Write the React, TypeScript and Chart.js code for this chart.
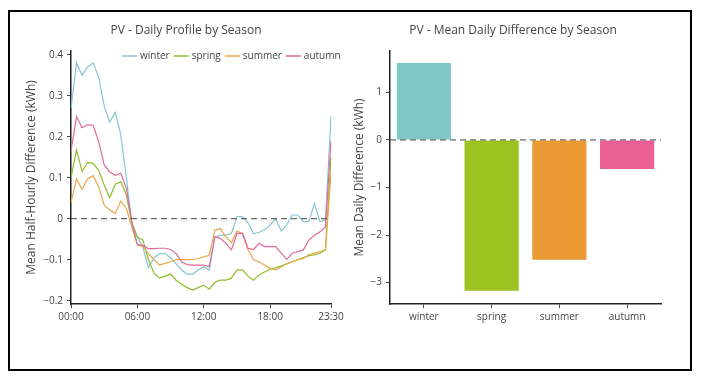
import React, { useEffect, useRef } from 'react';
import { Chart, registerables } from 'chart.js';

Chart.register(...registerables);

const timeLabels = [
  '00:00', '00:30', '01:00', '01:30', '02:00', '02:30', '03:00', '03:30',
  '04:00', '04:30', '05:00', '05:30', '06:00', '06:30', '07:00', '07:30',
  '08:00', '08:30', '09:00', '09:30', '10:00', '10:30', '11:00', '11:30',
  '12:00', '12:30', '13:00', '13:30', '14:00', '14:30', '15:00', '15:30',
  '16:00', '16:30', '17:00', '17:30', '18:00', '18:30', '19:00', '19:30',
  '20:00', '20:30', '21:00', '21:30', '22:00', '22:30', '23:00', '23:30',
];
const shownTimeTicks = ['00:00', '06:00', '12:00', '18:00', '23:30'];

const seasons = ['winter', 'spring', 'summer', 'autumn'];

const winterProfile = [
  0.27, 0.38, 0.35, 0.37, 0.38, 0.345, 0.275, 0.235, 0.26, 0.205, 0.1, -0.01,
  -0.045, -0.07, -0.12, -0.095, -0.085, -0.085, -0.095, -0.11, -0.125, -0.135, -0.135, -0.125,
  -0.117, -0.125, -0.045, -0.04, -0.04, -0.036, 0.005, 0.005, -0.01, -0.037, -0.033, -0.027,
  -0.015, 0.0, -0.03, -0.015, 0.009, 0.009, -0.007, -0.007, 0.037, -0.007, -0.003, 0.25,
];
const springProfile = [
  0.1, 0.168, 0.115, 0.137, 0.135, 0.118, 0.082, 0.051, 0.084, 0.09, 0.058, -0.01,
  -0.045, -0.052, -0.1, -0.133, -0.145, -0.14, -0.135, -0.15, -0.16, -0.168, -0.174, -0.168,
  -0.162, -0.172, -0.155, -0.15, -0.15, -0.145, -0.125, -0.125, -0.14, -0.15, -0.137, -0.13,
  -0.123, -0.12, -0.115, -0.11, -0.105, -0.1, -0.095, -0.09, -0.088, -0.084, -0.076, 0.15,
];
const summerProfile = [
  0.04, 0.097, 0.072, 0.097, 0.105, 0.078, 0.033, 0.021, 0.013, 0.043, 0.025, -0.02,
  -0.064, -0.068, -0.085, -0.1, -0.113, -0.109, -0.105, -0.1, -0.1, -0.1, -0.1, -0.097,
  -0.093, -0.089, -0.028, -0.024, -0.045, -0.058, -0.03, -0.036, -0.076, -0.1, -0.105, -0.113,
  -0.121, -0.125, -0.117, -0.11, -0.105, -0.1, -0.097, -0.088, -0.084, -0.08, -0.076, 0.11,
];
const autumnProfile = [
  0.164, 0.249, 0.222, 0.229, 0.228, 0.188, 0.131, 0.114, 0.106, 0.111, 0.074, -0.01,
  -0.063, -0.065, -0.073, -0.073, -0.072, -0.072, -0.075, -0.085, -0.105, -0.112, -0.113, -0.113,
  -0.113, -0.117, -0.044, -0.048, -0.06, -0.076, -0.036, -0.036, -0.072, -0.075, -0.06, -0.068,
  -0.068, -0.068, -0.084, -0.099, -0.084, -0.08, -0.076, -0.052, -0.04, -0.032, -0.02, 0.19,
];

const meanDailyDiff = [1.62, -3.17, -2.52, -0.61];

const FONT = '"Open Sans", "Noto Sans", sans-serif';
const TEXT = '#444';
const AXIS = '#222';
const lineColors = ['#86c6d4', '#8fbe2c', '#eba84a', '#e0669c'];
const barColors = ['#80c8c8', '#9cc320', '#ec9a34', '#ea6096'];

const fmt = (v: number) => {
  const r = Math.round(v * 10) / 10;
  return String(r).replace('-', '\u2212');
};

const zeroLine = {
  id: 'zeroLine',
  afterDatasetsDraw(chart: any) {
    const y = chart.scales.y.getPixelForValue(0);
    const { left, right } = chart.chartArea;
    const ctx = chart.ctx;
    ctx.save();
    ctx.setLineDash([6, 4]);
    ctx.strokeStyle = '#444';
    ctx.lineWidth = 1;
    ctx.beginPath();
    ctx.moveTo(left, y);
    ctx.lineTo(right, y);
    ctx.stroke();
    ctx.restore();
  },
};

const makeTitle = (text: string, cx: number, cy: number) => ({
  id: 'panelTitle',
  afterDraw(chart: any) {
    const ctx = chart.ctx;
    ctx.save();
    ctx.font = `12px ${FONT}`;
    ctx.fillStyle = TEXT;
    ctx.textAlign = 'center';
    ctx.textBaseline = 'middle';
    ctx.fillText(text, cx, cy);
    ctx.restore();
  },
});

const seasonLegend = {
  id: 'seasonLegend',
  afterDraw(chart: any) {
    const ctx = chart.ctx;
    ctx.save();
    ctx.font = `10px ${FONT}`;
    ctx.textBaseline = 'middle';
    ctx.textAlign = 'left';
    let x = 112;
    const y = 44;
    chart.data.datasets.forEach((ds: any) => {
      ctx.strokeStyle = ds.borderColor;
      ctx.lineWidth = 1.5;
      ctx.beginPath();
      ctx.moveTo(x, y);
      ctx.lineTo(x + 15, y);
      ctx.stroke();
      x += 18;
      ctx.fillStyle = TEXT;
      ctx.fillText(ds.label, x, y);
      x += ctx.measureText(ds.label).width + 4;
    });
    ctx.restore();
  },
};

export default function App() {
  const leftRef = useRef<HTMLCanvasElement>(null);
  const rightRef = useRef<HTMLCanvasElement>(null);

  useEffect(() => {
    const profiles = [winterProfile, springProfile, summerProfile, autumnProfile];
    const left = new Chart(leftRef.current as HTMLCanvasElement, {
      type: 'line',
      data: {
        labels: timeLabels,
        datasets: seasons.map((s, i) => ({
          label: s,
          data: profiles[i],
          borderColor: lineColors[i],
          backgroundColor: lineColors[i],
          borderWidth: 1.2,
          pointRadius: 0,
          tension: 0,
          fill: false,
          order: seasons.length - i,
        })),
      },
      options: {
        responsive: false,
        animation: false,
        events: [],
        layout: { padding: { top: 39, right: 19, left: 0, bottom: 0 } },
        plugins: { legend: { display: false }, title: { display: false }, tooltip: { enabled: false } },
        scales: {
          x: {
            type: 'category',
            offset: false,
            grid: {
              drawOnChartArea: false,
              drawTicks: true,
              tickLength: 4,
              tickColor: (ctx: any) => (shownTimeTicks.includes(timeLabels[ctx.index]) ? TEXT : 'rgba(0,0,0,0)'),
            },
            border: { display: true, color: AXIS, width: 1.5 },
            ticks: {
              autoSkip: false,
              maxRotation: 0,
              minRotation: 0,
              padding: 3,
              color: TEXT,
              font: { family: FONT, size: 10 },
              callback: (_v: any, i: number) => (shownTimeTicks.includes(timeLabels[i]) ? timeLabels[i] : ''),
            },
            afterFit: (s: any) => { s.height = 63; },
          },
          y: {
            min: -0.208,
            max: 0.409,
            grid: { drawOnChartArea: false, drawTicks: true, tickLength: 4, tickColor: TEXT },
            border: { display: true, color: AXIS, width: 1.5 },
            ticks: {
              stepSize: 0.1,
              includeBounds: false,
              padding: 4,
              color: TEXT,
              font: { family: FONT, size: 10 },
              callback: (v: any) => fmt(Number(v)),
            },
            title: {
              display: true,
              text: 'Mean Half-Hourly Difference (kWh)',
              color: TEXT,
              font: { family: FONT, size: 12 },
              padding: { top: 14.8, bottom: 0 },
            },
            afterFit: (s: any) => { s.width = 61; },
          },
        },
      } as any,
      plugins: [zeroLine, makeTitle('PV - Daily Profile by Season', 176, 19), seasonLegend],
    });

    const right = new Chart(rightRef.current as HTMLCanvasElement, {
      type: 'bar',
      data: {
        labels: seasons,
        datasets: [
          {
            label: 'Mean Daily Difference',
            data: meanDailyDiff,
            backgroundColor: barColors,
            borderWidth: 0,
            barPercentage: 0.8,
            categoryPercentage: 1.0,
          },
        ],
      },
      options: {
        responsive: false,
        animation: false,
        events: [],
        layout: { padding: { top: 39, right: 24, left: 0, bottom: 0 } },
        plugins: { legend: { display: false }, title: { display: false }, tooltip: { enabled: false } },
        scales: {
          x: {
            type: 'category',
            offset: true,
            grid: { offset: false, drawOnChartArea: false, drawTicks: true, tickLength: 4, tickColor: TEXT },
            border: { display: true, color: AXIS, width: 1.5 },
            ticks: { maxRotation: 0, padding: 3, color: TEXT, font: { family: FONT, size: 10 } },
            afterFit: (s: any) => { s.height = 63; },
          },
          y: {
            min: -3.45,
            max: 1.87,
            grid: { drawOnChartArea: false, drawTicks: true, tickLength: 4, tickColor: TEXT },
            border: { display: true, color: AXIS, width: 1.5 },
            ticks: {
              stepSize: 1,
              includeBounds: false,
              padding: 4,
              color: TEXT,
              font: { family: FONT, size: 10 },
              callback: (v: any) => fmt(Number(v)),
            },
            title: {
              display: true,
              text: 'Mean Daily Difference (kWh)',
              color: TEXT,
              font: { family: FONT, size: 12 },
              padding: { top: 2.8, bottom: 0 },
            },
            afterFit: (s: any) => { s.width = 40; },
          },
        },
      } as any,
      plugins: [zeroLine, makeTitle('PV - Mean Daily Difference by Season', 163, 19)],
    });

    return () => {
      left.destroy();
      right.destroy();
    };
  }, []);

  return (
    <div style={{ position: 'relative', width: 685, height: 365 }}>
      <div
        style={{
          position: 'absolute',
          left: 0,
          top: 2,
          width: 684,
          height: 361,
          border: '2px solid #000',
          boxSizing: 'border-box',
        }}
      />
      <canvas
        ref={leftRef}
        width={340}
        height={355}
        style={{ position: 'absolute', left: 2, top: 4, width: 340, height: 355, display: 'block' }}
      />
      <canvas
        ref={rightRef}
        width={335}
        height={355}
        style={{ position: 'absolute', left: 342, top: 4, width: 335, height: 355, display: 'block' }}
      />
    </div>
  );
}
